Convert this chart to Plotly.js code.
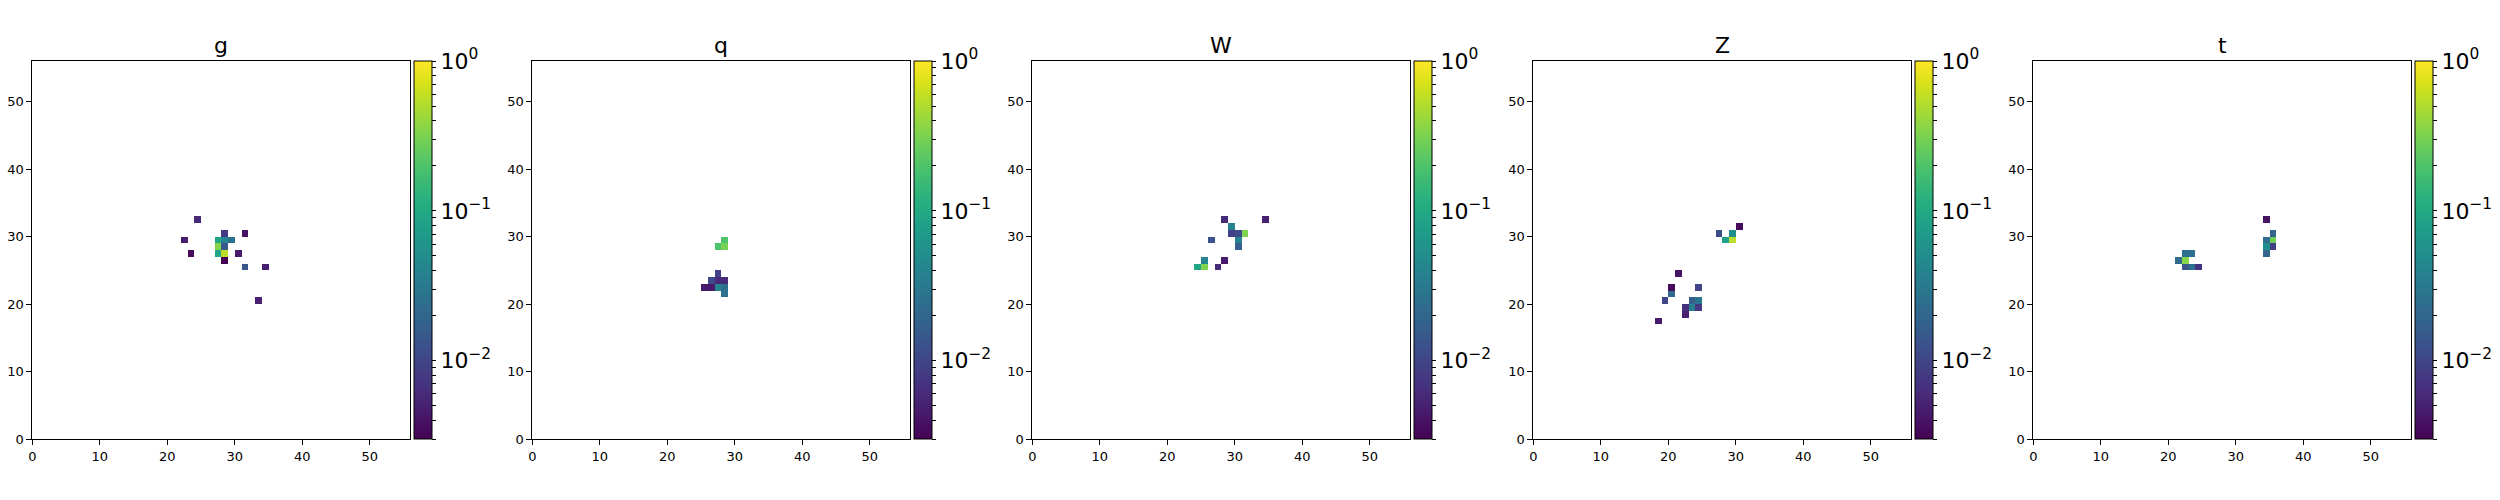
<!DOCTYPE html>
<html>
<head>
<meta charset="utf-8">
<script src="https://cdn.plot.ly/plotly-3.0.1.min.js"></script>
<style>html,body{margin:0;padding:0;background:#fff}#chart{width:2500px;height:500px}</style>
</head>
<body>
<div id="chart"></div>
<script>
// Panel titles
const panelTitles = ["g", "q", "W", "Z", "t"];
const gridSize = 56;
const axisTicks = [0, 10, 20, 30, 40, 50];

// Non-empty cells of each 56x56 grid: column index, row index, value
const g_cols = [24, 22, 23, 28, 31, 27, 28, 29, 27, 28, 27, 28, 30, 28, 31, 34, 33];
const g_rows = [32, 29, 27, 30, 30, 29, 29, 29, 28, 28, 27, 27, 27, 26, 25, 25, 20];
const g_vals = [0.006, 0.0045, 0.0035, 0.008, 0.004, 0.09, 0.04, 0.027, 0.35, 0.015, 0.09, 0.55, 0.0045, 0.003, 0.014, 0.005, 0.005];

const q_cols = [28, 27, 28, 27, 26, 27, 28, 25, 26, 27, 28, 28];
const q_rows = [29, 28, 28, 24, 23, 23, 23, 22, 22, 22, 22, 21];
const q_vals = [0.2, 0.2, 0.3, 0.009, 0.011, 0.006, 0.006, 0.0045, 0.0045, 0.04, 0.025, 0.025];

const W_cols = [28, 34, 29, 29, 30, 31, 26, 30, 30, 25, 28, 24, 25, 27];
const W_rows = [32, 32, 31, 30, 30, 30, 29, 29, 28, 26, 26, 25, 25, 25];
const W_vals = [0.006, 0.005, 0.04, 0.009, 0.011, 0.32, 0.013, 0.04, 0.017, 0.04, 0.0045, 0.09, 0.32, 0.006];

const Z_cols = [30, 27, 29, 28, 29, 21, 20, 24, 20, 19, 23, 24, 22, 23, 24, 22, 18];
const Z_rows = [31, 30, 30, 29, 29, 24, 22, 22, 21, 20, 20, 20, 19, 19, 19, 18, 17];
const Z_vals = [0.0035, 0.012, 0.05, 0.08, 0.55, 0.004, 0.0035, 0.01, 0.022, 0.01, 0.018, 0.028, 0.007, 0.035, 0.008, 0.005, 0.0045];

const t_cols = [34, 35, 34, 35, 34, 35, 34, 22, 23, 21, 22, 22, 23, 24];
const t_rows = [32, 30, 29, 29, 28, 28, 27, 27, 27, 26, 26, 25, 25, 25];
const t_vals = [0.004, 0.02, 0.023, 0.28, 0.05, 0.009, 0.02, 0.025, 0.025, 0.022, 0.35, 0.014, 0.027, 0.007];

// Colour scale limits (log10)
const cMin = Math.log10(0.003);
const cMax = 0;
const cbMajor = [-2, -1, 0];
const cbMajorText = ["10<sup>−2</sup>", "10<sup>−1</sup>", "10<sup>0</sup>"];

const panels = [
  [g_cols, g_rows, g_vals],
  [q_cols, q_rows, q_vals],
  [W_cols, W_rows, W_vals],
  [Z_cols, Z_rows, Z_vals],
  [t_cols, t_rows, t_vals]
];

function buildGrid(cols, rows, vals) {
  const z = [];
  for (let r = 0; r < gridSize; r++) { z.push(new Array(gridSize).fill(null)); }
  for (let i = 0; i < cols.length; i++) { z[rows[i]][cols[i]] = Math.log10(vals[i]); }
  return z;
}

const centers = [];
for (let i = 0; i < gridSize; i++) centers.push(i + 0.5);

// colorbar ticks (major labelled, minor unlabelled)
const cbTickVals = [], cbTickText = [];
for (let e = -3; e <= 0; e++) {
  for (let k = 1; k <= 9; k++) {
    const v = Math.log10(k) + e;
    if (v < cMin - 1e-9 || v > cMax + 1e-9) continue;
    cbTickVals.push(v);
    const mi = cbMajor.indexOf(v);
    cbTickText.push(k === 1 && mi >= 0 ? cbMajorText[mi] : "");
  }
}

const figW = 2500, figH = 500;
const axW = 378, axTop = 61, axBot = 439;
const lefts = [32.3, 532.3, 1032.3, 1533.3, 2033.3];
const fontFam = "DejaVu Sans, sans-serif";

const data = [], annotations = [];
const layout = {
  width: figW, height: figH,
  margin: {l: 0, r: 0, t: 0, b: 0},
  paper_bgcolor: "#fff", plot_bgcolor: "#fff",
  showlegend: false,
  font: {family: fontFam, color: "#000"}
};

panels.forEach((p, k) => {
  const sfx = k === 0 ? "" : String(k + 1);
  const x0 = lefts[k] / figW, x1 = (lefts[k] + axW) / figW;
  data.push({
    type: "heatmap",
    x: centers, y: centers,
    z: buildGrid(p[0], p[1], p[2]),
    xaxis: "x" + sfx, yaxis: "y" + sfx,
    colorscale: "Viridis",
    zmin: cMin, zmax: cMax,
    zsmooth: false,
    hoverongaps: false,
    colorbar: {
      x: (lefts[k] + axW + 4) / figW, xanchor: "left", xpad: 0,
      y: 0.5, yanchor: "middle", ypad: 0,
      len: (axBot - axTop) / figH, lenmode: "fraction",
      thickness: 18, thicknessmode: "pixels",
      outlinewidth: 1, outlinecolor: "#000",
      tickmode: "array", tickvals: cbTickVals, ticktext: cbTickText,
      ticks: "outside", ticklen: 4, tickwidth: 1, tickcolor: "#000",
      tickfont: {family: fontFam, size: 22, color: "#000"}
    }
  });
  const axCommon = {
    range: [0, gridSize], tickmode: "array", tickvals: axisTicks,
    ticks: "outside", ticklen: 5, tickwidth: 1, tickcolor: "#000",
    showline: true, mirror: true, linecolor: "#000", linewidth: 1,
    showgrid: false, zeroline: false, fixedrange: true,
    tickfont: {family: fontFam, size: 13, color: "#000"}
  };
  layout["xaxis" + sfx] = Object.assign({}, axCommon, {domain: [x0, x1], anchor: "y" + sfx});
  layout["yaxis" + sfx] = Object.assign({}, axCommon, {domain: [(figH - axBot) / figH, (figH - axTop) / figH], anchor: "x" + sfx});
  annotations.push({
    text: panelTitles[k], xref: "paper", yref: "paper",
    x: (x0 + x1) / 2, y: (figH - 46) / figH, xanchor: "center", yanchor: "middle",
    showarrow: false, font: {family: fontFam, size: 22, color: "#000"}
  });
});
layout.annotations = annotations;

Plotly.newPlot("chart", data, layout, {staticPlot: true, displayModeBar: false});
</script>
</body>
</html>
